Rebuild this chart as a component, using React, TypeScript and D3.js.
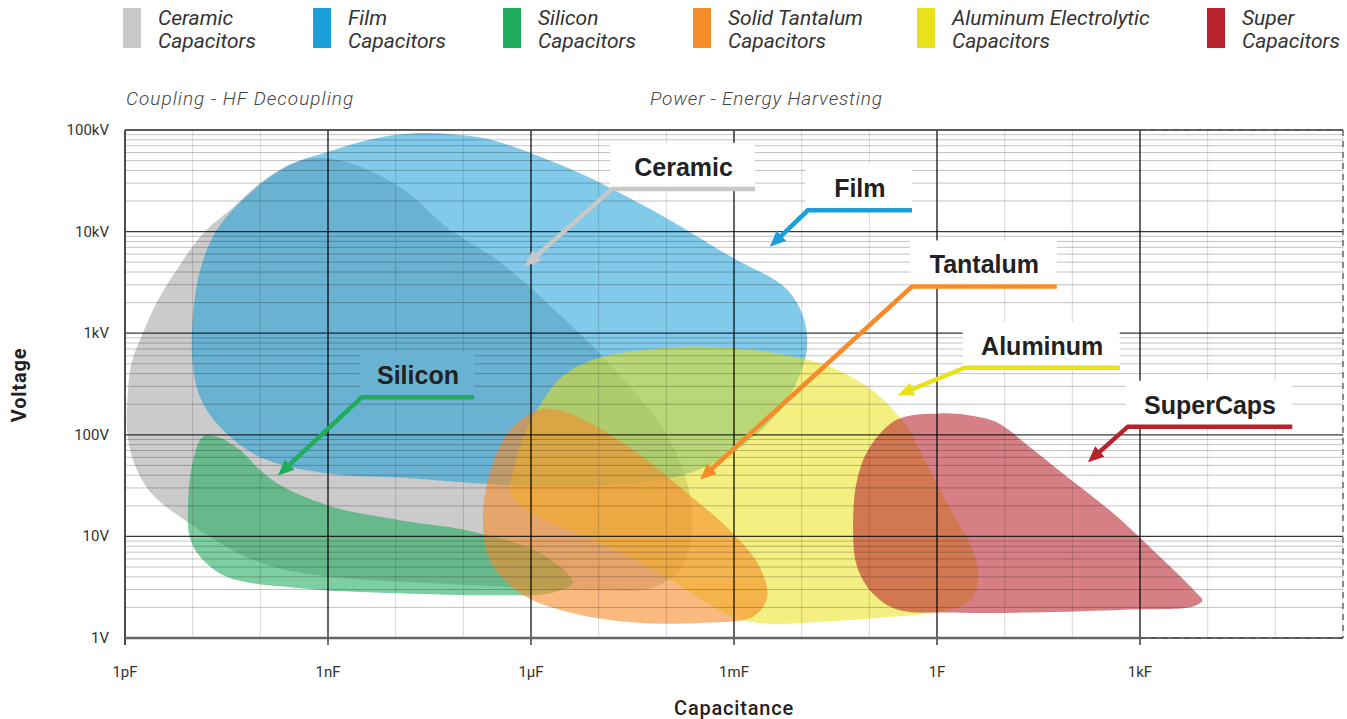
import React from 'react'
import * as d3 from 'd3'

// chart values (exponents: [log10 farad, log10 volt])
const legendNames = ['Ceramic', 'Film', 'Silicon', 'Solid Tantalum', 'Aluminum Electrolytic', 'Super']
const legendSecondLine = ['Capacitors', 'Capacitors', 'Capacitors', 'Capacitors', 'Capacitors', 'Capacitors']
const seriesColors = ['#c8c8c8', '#1a9fd9', '#1fad5d', '#f68b29', '#e9e11a', '#b8222c']

const ceramicOutline = [
  [-11.88, 1.75], [-11.97, 2.05], [-11.96, 2.39], [-11.91, 2.69], [-11.75, 2.98], [-11.51, 3.33],
  [-11.19, 3.67], [-10.82, 4.00], [-10.40, 4.24], [-10.00, 4.48], [-9.41, 4.70], [-8.82, 4.70],
  [-7.94, 4.44], [-7.20, 4.02], [-6.46, 3.70], [-5.57, 3.18], [-4.83, 2.69], [-4.09, 2.10],
  [-3.72, 1.60], [-3.62, 1.06], [-3.80, 0.67], [-4.24, 0.49], [-4.98, 0.47], [-6.16, 0.50],
  [-7.45, 0.54], [-8.93, 0.60], [-10.00, 0.74], [-11.07, 1.14], [-11.63, 1.44]
]
const filmOutline = [
  [-11.00, 2.71], [-11.00, 3.13], [-10.89, 3.62], [-10.64, 4.02], [-10.15, 4.38], [-9.61, 4.64],
  [-8.93, 4.80], [-8.42, 4.90], [-7.69, 4.97], [-6.90, 4.94], [-6.46, 4.88], [-5.47, 4.63],
  [-4.83, 4.43], [-3.99, 4.13], [-3.01, 3.74], [-2.28, 3.47], [-2.03, 3.25], [-1.92, 2.97],
  [-1.97, 2.70], [-2.29, 2.27], [-2.97, 1.85], [-3.77, 1.60], [-5.08, 1.50], [-6.46, 1.51],
  [-7.94, 1.58], [-9.01, 1.62], [-10.00, 1.78], [-10.60, 2.08], [-10.89, 2.37]
]
const siliconOutline = [
  [-10.85, 1.98], [-11.00, 1.72], [-11.07, 1.29], [-11.04, 0.99], [-10.89, 0.80], [-10.49, 0.60],
  [-9.41, 0.49], [-7.94, 0.44], [-6.46, 0.42], [-5.72, 0.44], [-5.39, 0.54], [-5.47, 0.64],
  [-5.97, 0.87], [-6.95, 1.06], [-7.94, 1.16], [-8.93, 1.29], [-9.67, 1.49], [-10.00, 1.65],
  [-10.30, 1.85], [-10.64, 1.98]
]
const tantalumOutline = [
  [-5.91, 2.24], [-6.31, 2.05], [-6.61, 1.62], [-6.71, 1.16], [-6.61, 0.77], [-6.16, 0.44],
  [-5.42, 0.25], [-4.43, 0.15], [-3.46, 0.15], [-2.72, 0.21], [-2.51, 0.40], [-2.62, 0.70],
  [-3.06, 1.06], [-3.70, 1.43], [-4.43, 1.82], [-5.03, 2.08], [-5.57, 2.24]
]
const aluminumOutline = [
  [-6.30, 1.43], [-6.24, 1.70], [-6.15, 1.92], [-5.87, 2.29], [-5.51, 2.59], [-4.98, 2.76],
  [-4.39, 2.83], [-3.50, 2.87], [-2.45, 2.81], [-1.58, 2.67], [-0.92, 2.42], [-0.47, 2.10],
  [-0.18, 1.75], [0.16, 1.31], [0.49, 0.92], [0.61, 0.62], [0.49, 0.37], [0.04, 0.26],
  [-0.84, 0.20], [-1.73, 0.16], [-2.47, 0.14], [-2.99, 0.20], [-3.50, 0.39], [-4.24, 0.69],
  [-5.13, 0.98], [-5.94, 1.21]
]
const superOutline = [
  [0.04, 2.21], [-0.59, 2.15], [-0.99, 1.88], [-1.18, 1.56], [-1.24, 1.06], [-1.18, 0.70],
  [-0.95, 0.44], [-0.59, 0.28], [0.15, 0.25], [1.37, 0.25], [2.85, 0.28], [3.78, 0.31],
  [3.92, 0.37], [3.84, 0.44], [3.34, 0.77], [2.60, 1.23], [1.86, 1.62], [1.37, 1.88],
  [0.89, 2.12], [0.49, 2.19]
]
const outlines = [ceramicOutline, filmOutline, siliconOutline, tantalumOutline, aluminumOutline, superOutline]
const shapeOpacity = [0.95, 0.55, 0.58, 0.6, 0.55, 0.58]
// paint order: aluminum goes under tantalum and super
const drawOrder = [0, 1, 2, 4, 3, 5]

const xTickValues = [1e-12, 1e-9, 1e-6, 1e-3, 1, 1e3]
const xTickLabels = ['1pF', '1nF', '1µF', '1mF', '1F', '1kF']
const yTickValues = [1, 10, 100, 1e3, 1e4, 1e5]
const yTickLabels = ['1V', '10V', '100V', '1kV', '10kV', '100kV']

const calloutLabels = ['Ceramic', 'Film', 'Silicon', 'Tantalum', 'Aluminum', 'SuperCaps']

// callout anchors, in the same exponent space as the outlines
const callouts = [
  { series: 0, lineV: 4.42, from: -4.80, to: -2.69, tip: [-6.09, 3.66] },
  { series: 1, lineV: 4.21, from: -1.91, to: -0.37, tip: [-2.47, 3.85] },
  { series: 2, lineV: 2.37, from: -8.50, to: -6.84, tip: [-9.74, 1.60] },
  { series: 3, lineV: 3.46, from: -0.37, to: 1.77, tip: [-3.50, 1.56] },
  { series: 4, lineV: 2.66, from: 0.41, to: 2.70, tip: [-0.58, 2.39] },
  { series: 5, lineV: 2.08, from: 2.82, to: 5.25, tip: [2.23, 1.73] }
]
const legendX = [123, 313, 503, 693, 917, 1207]

const WIDTH = 1347
const HEIGHT = 719
const left = 125
const right = 1343
const top = 130
const bottom = 638

const xScale = d3.scaleLog().domain([1e-12, 1e6]).range([left, right])
const yScale = d3.scaleLog().domain([1, 1e5]).range([bottom, top])

const toPx = ([lc, lv]: number[]) => [xScale(10 ** lc), yScale(10 ** lv)] as [number, number]

const sansBold = '"Liberation Sans", Arial, sans-serif'
const roboto = 'Roboto, "Noto Sans", sans-serif'

// white label box of a callout, in px
const calloutBox = (c: any) => {
  const yL = yScale(10 ** c.lineV)
  const x0 = xScale(10 ** c.from)
  const x1 = xScale(10 ** c.to)
  return { x: x0 - 2, y: yL - 46, width: x1 - x0 + 2, height: 48 }
}

/**
 * Grid
 *
 * decade lines, the 1000x lines are darker, minor log lines between volts decades.
 * drawn over the shapes with translucent black so the lines show through them
 */
class Grid extends React.Component {
  render() {
    const xDecades = d3.range(-12, 7).map((e) => 10 ** e)
    const yMinor: number[] = []
    for (let d = 0; d < 5; d++) {
      for (let k = 2; k < 10; k++) yMinor.push(k * 10 ** d)
    }
    const kF = xScale(1e3)
    return (
      <g mask="url(#gridMask)">
        {yMinor.map((v, i) => (
          <line key={'ym' + i} x1={left} x2={right} y1={yScale(v)} y2={yScale(v)} stroke="#000" strokeOpacity={0.24} strokeWidth={1} />
        ))}
        {xDecades.map((c, i) => (
          <line key={'xd' + i} x1={xScale(c)} x2={xScale(c)} y1={top} y2={bottom} stroke="#000" strokeOpacity={0.15} strokeWidth={1} />
        ))}
        {yTickValues.map((v, i) => (
          <line key={'yM' + i} x1={left} x2={right} y1={yScale(v)} y2={yScale(v)} stroke="#000" strokeOpacity={0.78} strokeWidth={1.3} />
        ))}
        {xTickValues.map((c, i) => (
          <line key={'xM' + i} x1={xScale(c)} x2={xScale(c)} y1={top} y2={bottom + 7} stroke="#000" strokeOpacity={0.82} strokeWidth={1.4} />
        ))}
        <line x1={left} x2={left} y1={top} y2={bottom + 7} stroke="#444" strokeWidth={1.5} />
        <line x1={left} x2={kF} y1={top} y2={top} stroke="#555" strokeWidth={1.5} />
        <line x1={kF} x2={right} y1={top} y2={top} stroke="#555" strokeWidth={1.3} strokeDasharray="6 5" />
        <line x1={right} x2={right} y1={top} y2={bottom} stroke="#555" strokeWidth={1.3} strokeDasharray="6 5" />
        <line x1={left} x2={kF} y1={bottom} y2={bottom} stroke="#666" strokeWidth={2.5} />
        <line x1={kF} x2={right} y1={bottom} y2={bottom} stroke="#555" strokeWidth={2} strokeDasharray="6 5" />
      </g>
    )
  }
}

/**
 * Blobs
 *
 * one smooth closed outline per capacitor family
 */
class Blobs extends React.Component {
  render() {
    const line = d3.line().curve(d3.curveCatmullRomClosed.alpha(0.5))
    return (
      <g>
        {drawOrder.map((i) => (
          <path
            key={i}
            d={line(outlines[i].map(toPx)) || ''}
            fill={seriesColors[i]}
            fillOpacity={shapeOpacity[i]}
          />
        ))}
      </g>
    )
  }
}

/**
 * Callout
 *
 * label with an elbow leader line and an arrow head
 */
class Callout extends React.Component<any> {
  render() {
    const { c } = this.props
    const yL = yScale(10 ** c.lineV)
    const x0 = xScale(10 ** c.from)
    const x1 = xScale(10 ** c.to)
    const [tx, ty] = toPx(c.tip)
    const color = seriesColors[c.series]

    const dx = tx - x0
    const dy = ty - yL
    const len = Math.sqrt(dx * dx + dy * dy)
    const ux = dx / len
    const uy = dy / len
    const headLen = 16
    const headW = 7
    const bx = tx - ux * headLen
    const by = ty - uy * headLen
    const head = [
      [tx, ty],
      [bx - uy * headW, by + ux * headW],
      [bx + uy * headW, by - ux * headW]
    ]
    return (
      <g>
        <path
          d={`M${x1},${yL}L${x0},${yL}L${bx + ux * 3},${by + uy * 3}`}
          fill="none"
          stroke={color}
          strokeWidth={4.5}
        />
        <polygon points={head.map((p) => p.join(',')).join(' ')} fill={color} />
        <text
          x={(x0 + x1) / 2}
          y={yL - 13}
          textAnchor="middle"
          fontFamily={sansBold}
          fontWeight="bold"
          fontSize={25}
          fill="#222"
        >
          {calloutLabels[c.series]}
        </text>
      </g>
    )
  }
}

class App extends React.Component {
  render() {
    return (
      <svg
        width={WIDTH}
        height={HEIGHT}
        style={{ position: 'absolute', left: 0, top: 0, background: '#fff' }}
      >
        <defs>
          <mask id="gridMask" maskUnits="userSpaceOnUse" x={0} y={0} width={WIDTH} height={HEIGHT}>
            <rect x={0} y={0} width={WIDTH} height={HEIGHT} fill="#fff" />
            {callouts.map((c, i) => {
              const b = calloutBox(c)
              return <rect key={i} x={b.x} y={b.y} width={b.width} height={b.height} fill="#000" />
            })}
          </mask>
        </defs>
        <rect x={0} y={0} width={WIDTH} height={HEIGHT} fill="#fff" />
        <Blobs />
        <Grid />
        {callouts.map((c, i) => <Callout key={'c' + i} c={c} />)}

        {/* axes labels */}
        {xTickValues.map((v, i) => (
          <text key={'xt' + i} x={xScale(v)} y={677} textAnchor="middle" fontFamily={roboto} fontSize={15} fill="#333">
            {xTickLabels[i]}
          </text>
        ))}
        {yTickValues.map((v, i) => (
          <text key={'yt' + i} x={109} y={yScale(v) + 5} textAnchor="end" fontFamily={roboto} fontSize={15} fill="#333">
            {yTickLabels[i]}
          </text>
        ))}
        <text x={(left + right) / 2} y={715} textAnchor="middle" fontFamily={roboto} fontWeight={500} fontSize={20} letterSpacing={0.8} fill="#222">
          Capacitance
        </text>
        <text
          transform="translate(26,385) rotate(-90)"
          textAnchor="middle"
          fontFamily={roboto}
          fontWeight="bold"
          fontSize={20}
          letterSpacing={0.8}
          fill="#222"
        >
          Voltage
        </text>

        {/* section captions */}
        <text x={126} y={105} fontFamily={roboto} fontStyle="italic" fontWeight={300} fontSize={19} letterSpacing={1} fill="#444">
          Coupling - HF Decoupling
        </text>
        <text x={650} y={105} fontFamily={roboto} fontStyle="italic" fontWeight={300} fontSize={19} letterSpacing={0.8} fill="#444">
          Power - Energy Harvesting
        </text>

        {/* legend */}
        {legendNames.map((name, i) => (
          <g key={'lg' + i} transform={`translate(${legendX[i]},0)`}>
            <rect x={0} y={8} width={18} height={40} fill={seriesColors[i]} />
            <text x={35} y={25} fontFamily={roboto} fontStyle="italic" fontSize={21} fill="#333">
              {name}
            </text>
            <text x={35} y={48} fontFamily={roboto} fontStyle="italic" fontSize={21} fill="#333">
              {legendSecondLine[i]}
            </text>
          </g>
        ))}
      </svg>
    )
  }
}

export default App
